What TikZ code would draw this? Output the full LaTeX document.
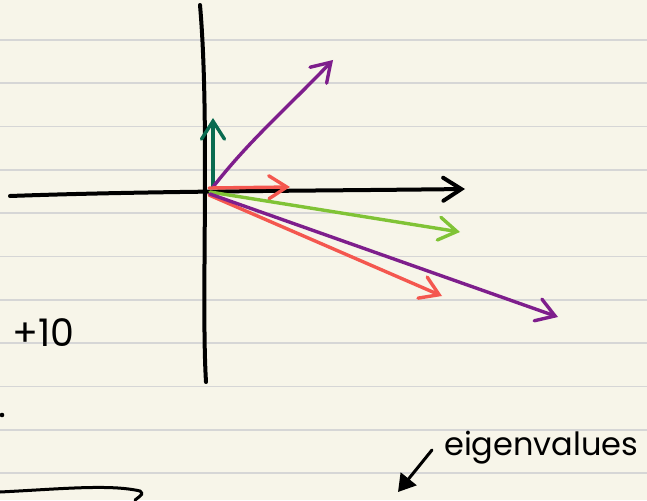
\documentclass[tikz,border=0pt]{standalone}
\usepackage{fontspec}
\setmainfont{Poppins}
\usepackage{tikz}
\usetikzlibrary{arrows.meta, positioning, calc}
\definecolor{paper}{HTML}{F7F5E9}
\definecolor{ruleline}{HTML}{D6D6D6}
\definecolor{vecpurple}{HTML}{7E1E8C}
\definecolor{vecred}{HTML}{F4574F}
\definecolor{veclime}{HTML}{80C336}
\definecolor{vecteal}{HTML}{0A6B50}

\begin{document}
\begin{tikzpicture}[
        x=1pt, y=-1pt,
        chevron/.style={-{Straight Barb[length=18pt, width=23pt, line cap=round]}},
        axis/.style={line width=4pt, line cap=round, black},
        vec/.style={chevron, line width=3.4pt, line cap=round},
        ruled/.style={line width=1.6pt, ruleline},
        hand/.style={font=\fontsize{32}{32}\selectfont, text=black, inner sep=0pt}
    ]
    \useasboundingbox (0,0) rectangle (647,500);
    \clip (0,0) rectangle (647,500);
    \fill[paper] (0,0) rectangle (647,500);
    \foreach \k in {0,...,10}
        \draw[ruled] (0,40+43.3*\k) -- (647,40+43.3*\k);
    \coordinate (O) at (208,190);
    \coordinate (ytop) at (200,5);
    \coordinate (ybot) at (206,382);
    \coordinate (xleft) at (10,196);
    \coordinate (xright) at (465,189);
    \draw[axis] (ytop) .. controls (210,120) and (201,300) .. (ybot);
    \draw[axis, chevron] (xleft) .. controls (150,191) and (300,191) .. (xright);
    \coordinate (tealtip) at (213,118);
    \coordinate (uptip) at (333,60);
    \coordinate (shorttip) at (290,187);
    \coordinate (limetip) at (460,232);
    \coordinate (redtip) at (442,296);
    \coordinate (purpletip) at (558,317);
    \draw[vec, vecteal] (213,187) -- (tealtip);
    \draw[vec, vecpurple] (213,187) .. controls (250,140) and (280,115) .. (uptip);
    \draw[vec, vecred] (209,188) -- (shorttip);
    \draw[vec, veclime] (210,192) -- (limetip);
    \draw[vec, vecred] (209,195) -- (redtip);
    \draw[vec, vecpurple] (210,194) -- (purpletip);
    \node[hand, font=\fontsize{38}{38}\selectfont, anchor=base east] (ten) at (75,346) {+10};
    \fill (2,415) circle (2.3);
    \coordinate (bstart) at (0,492);
    \coordinate (bend) at (135,500);
    \draw[line width=3pt, line cap=round] (bstart) .. controls (60,489) and (110,484) .. (140,491) .. controls (143,494) .. (bend);
    \node[hand, anchor=base west] (eig) at (444,455) {eigenvalues};
    \coordinate (eigarrow) at (432,450);
    \coordinate (eigtip) at (398,492);
    \draw[line width=3pt, line cap=round, -{Triangle[length=17pt, width=20pt]}] (eigarrow) -- (eigtip);
\end{tikzpicture}
\end{document}
